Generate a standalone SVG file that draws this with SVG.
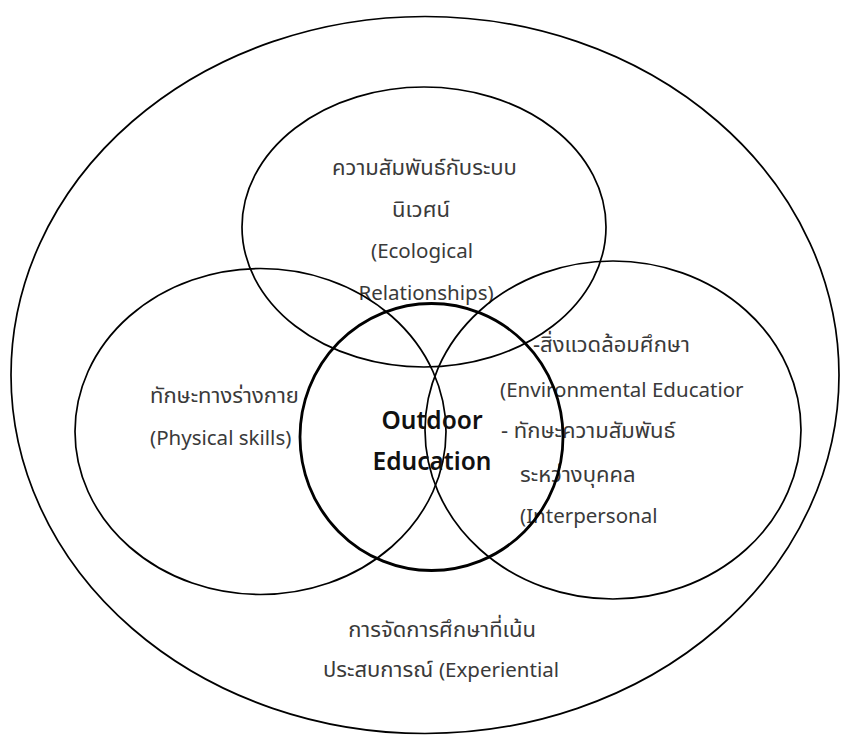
<svg xmlns="http://www.w3.org/2000/svg" width="841" height="735" viewBox="0 0 841 735">
<style>
.c{fill:none;stroke:#000;stroke-width:1.7}
.m{fill:none;stroke:#000;stroke-width:2.8}
.t{font-family:"Noto Sans","Noto Sans Thai","Tahoma",sans-serif;font-size:22px;fill:#3a3a3a}
.e{font-size:20.5px}
.b{font-family:"Noto Sans",sans-serif;font-size:24.5px;font-weight:600;fill:#111;text-anchor:middle}
.mid{text-anchor:middle}
</style>
<rect width="841" height="735" fill="#fff"/>
<g id="outer">
<ellipse class="c" cx="425" cy="375" rx="414" ry="358.5"/>
<text class="t mid" x="442" y="637">การจัดการศึกษาที่เน้น</text>
<text class="t mid" x="441" y="677">ประสบการณ์ <tspan class="e">(Experiential</tspan></text>
</g>
<g id="top">
<ellipse class="c" cx="424" cy="227" rx="182" ry="140"/>
<text class="t mid" x="424.5" y="175">ความสัมพันธ์กับระบบ</text>
<text class="t mid" x="421" y="217">นิเวศน์</text>
<text class="t e mid" x="422" y="258">(Ecological</text>
<text class="t e mid" x="426" y="300">Relationships)</text>
</g>
<g id="left">
<ellipse class="c" cx="260.5" cy="431.5" rx="185.5" ry="163"/>
<text class="t" x="150" y="403">ทักษะทางร่างกาย</text>
<text class="t e" x="150" y="445">(Physical skills)</text>
</g>
<g id="right">
<ellipse class="c" cx="613" cy="430" rx="188" ry="169"/>
<text class="t" x="533" y="352">-สิ่งแวดล้อมศึกษา</text>
<text class="t e" x="500" y="397">(Environmental Educatior</text>
<text class="t" x="501" y="438">- ทักษะความสัมพันธ์</text>
<text class="t" x="520" y="482">ระหว่างบุคคล</text>
<text class="t e" x="520" y="523">(Interpersonal</text>
</g>
<g id="center">
<ellipse class="m" cx="431.5" cy="437" rx="131.5" ry="133.5"/>
<text class="b" x="432" y="429">Outdoor</text>
<text class="b" x="432" y="470">Education</text>
</g>
<g id="connectors"></g>
</svg>
